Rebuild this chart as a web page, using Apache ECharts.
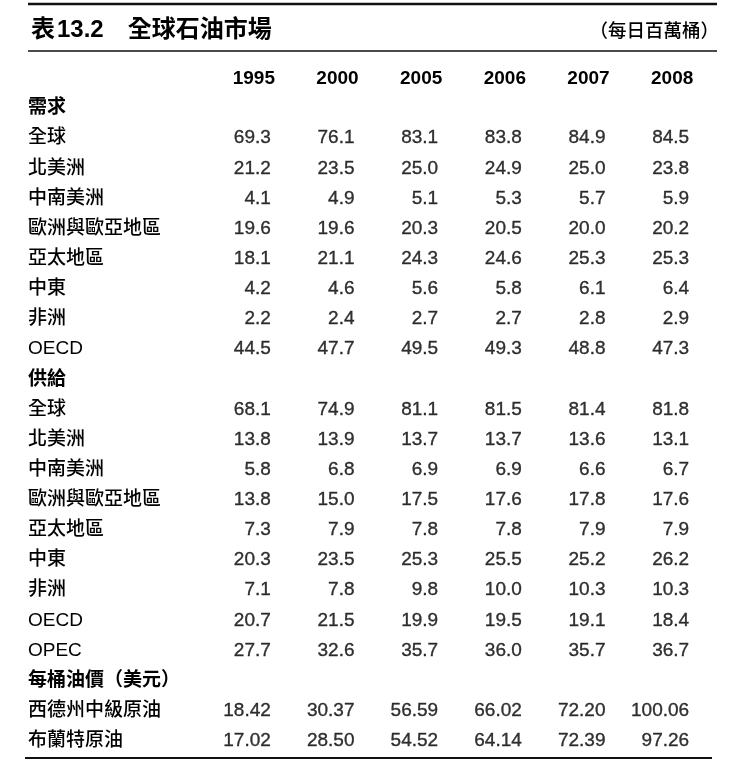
<!DOCTYPE html>
<html>
<head>
<meta charset="utf-8">
<script src="https://cdn.jsdelivr.net/npm/echarts@6/dist/echarts.min.js"></script>
<style>
html,body{margin:0;padding:0;background:#fff;}
#chart{width:745px;height:766px;}
</style>
</head>
<body>
<div id="chart"></div>
<script>
// ---- data ----
const years = ['1995', '2000', '2005', '2006', '2007', '2008'];

const demandTitle = '需求';
const demandLabels = ['全球', '北美洲', '中南美洲', '歐洲與歐亞地區', '亞太地區', '中東', '非洲', 'OECD'];
const demandValues = [
  [69.3, 76.1, 83.1, 83.8, 84.9, 84.5],
  [21.2, 23.5, 25.0, 24.9, 25.0, 23.8],
  [4.1, 4.9, 5.1, 5.3, 5.7, 5.9],
  [19.6, 19.6, 20.3, 20.5, 20.0, 20.2],
  [18.1, 21.1, 24.3, 24.6, 25.3, 25.3],
  [4.2, 4.6, 5.6, 5.8, 6.1, 6.4],
  [2.2, 2.4, 2.7, 2.7, 2.8, 2.9],
  [44.5, 47.7, 49.5, 49.3, 48.8, 47.3]
];

const supplyTitle = '供給';
const supplyLabels = ['全球', '北美洲', '中南美洲', '歐洲與歐亞地區', '亞太地區', '中東', '非洲', 'OECD', 'OPEC'];
const supplyValues = [
  [68.1, 74.9, 81.1, 81.5, 81.4, 81.8],
  [13.8, 13.9, 13.7, 13.7, 13.6, 13.1],
  [5.8, 6.8, 6.9, 6.9, 6.6, 6.7],
  [13.8, 15.0, 17.5, 17.6, 17.8, 17.6],
  [7.3, 7.9, 7.8, 7.8, 7.9, 7.9],
  [20.3, 23.5, 25.3, 25.5, 25.2, 26.2],
  [7.1, 7.8, 9.8, 10.0, 10.3, 10.3],
  [20.7, 21.5, 19.9, 19.5, 19.1, 18.4],
  [27.7, 32.6, 35.7, 36.0, 35.7, 36.7]
];

const priceTitle = '每桶油價（美元）';
const priceLabels = ['西德州中級原油', '布蘭特原油'];
const priceValues = [
  [18.42, 30.37, 56.59, 66.02, 72.20, 100.06],
  [17.02, 28.50, 54.52, 64.14, 72.39, 97.26]
];

const tableTitle = '全球石油市場';
const tableNo = '13.2';
const unitText = '（每日百萬桶）';

// ---- build rows ----
const rowLabels = [];
const rowIsHeader = [];
const cells = [];
function addSection(title, labels, values, decimals) {
  rowLabels.push(title); rowIsHeader.push(true);
  labels.forEach((lab, i) => {
    const r = rowLabels.length;
    rowLabels.push(lab); rowIsHeader.push(false);
    values[i].forEach((v, c) => cells.push([c, r, v, decimals]));
  });
}
addSection(demandTitle, demandLabels, demandValues, 1);
addSection(supplyTitle, supplyLabels, supplyValues, 1);
addSection(priceTitle, priceLabels, priceValues, 2);

const MIX = '"Liberation Sans", "Noto Sans CJK TC", "Noto Sans CJK SC", sans-serif';
const CJK = '"Noto Sans CJK TC", "Noto Sans CJK SC", sans-serif';
const NUM = '"Liberation Sans", Arial, Helvetica, sans-serif';
const INK = '#000000';

const chart = echarts.init(document.getElementById('chart'), null, {renderer: 'canvas'});
chart.setOption({
  backgroundColor: '#ffffff',
  animation: false,
  title: [{
    left: 26,
    top: 13,
    text: '{k|表}{n|' + tableNo + '}{g|}{k|' + tableTitle + '}',
    textStyle: {
      rich: {
        k: {fontFamily: MIX, fontWeight: 'bold', fontSize: 24, color: INK},
        n: {fontFamily: NUM, fontWeight: 'bold', fontSize: 24, color: INK, padding: [0, 0, 0, 2]},
        g: {width: 24}
      }
    }
  }, {
    right: 21,
    top: 16,
    text: unitText,
    textStyle: {fontFamily: CJK, fontWeight: 500, fontSize: 18.5, color: INK}
  }],
  grid: {left: 212, right: 31, top: 93, bottom: 10, containLabel: false},
  xAxis: {
    type: 'category',
    position: 'top',
    data: years,
    axisLine: {show: false},
    axisTick: {show: false},
    splitLine: {show: false},
    axisLabel: {
      margin: 5,
      fontFamily: NUM,
      fontWeight: 'bold',
      fontSize: 19,
      color: INK
    }
  },
  yAxis: {
    type: 'category',
    inverse: true,
    data: rowLabels,
    axisLine: {show: false},
    axisTick: {show: false},
    splitLine: {show: false},
    axisLabel: {
      interval: 0,
      align: 'left',
      margin: 184,
      formatter: (v, i) => rowIsHeader[i] ? '{h|' + v + '}' : '{r|' + v + '}',
      rich: {
        h: {fontFamily: MIX, fontWeight: 'bold', fontSize: 19, color: INK},
        r: {fontFamily: MIX, fontWeight: 500, fontSize: 19, color: INK}
      }
    }
  },
  series: [{
    type: 'scatter',
    data: cells,
    encode: {x: 0, y: 1},
    symbolSize: 1,
    itemStyle: {color: 'rgba(0,0,0,0)'},
    silent: true,
    label: {
      show: true,
      position: 'inside',
      align: 'right',
      verticalAlign: 'middle',
      offset: [17, 0],
      fontFamily: NUM,
      fontSize: 19,
      color: INK,
      textBorderColor: INK,
      textBorderWidth: 0.35,
      formatter: p => p.value[2].toFixed(p.value[3])
    }
  }],
  graphic: [
    {type: 'line', shape: {x1: 28, y1: 4, x2: 717, y2: 4}, style: {stroke: '#111', lineWidth: 2.5}},
    {type: 'line', shape: {x1: 28, y1: 51, x2: 717, y2: 51}, style: {stroke: '#111', lineWidth: 1.5}},
    {type: 'line', shape: {x1: 25, y1: 758, x2: 712, y2: 758}, style: {stroke: '#111', lineWidth: 2}}
  ]
});
</script>
</body>
</html>
